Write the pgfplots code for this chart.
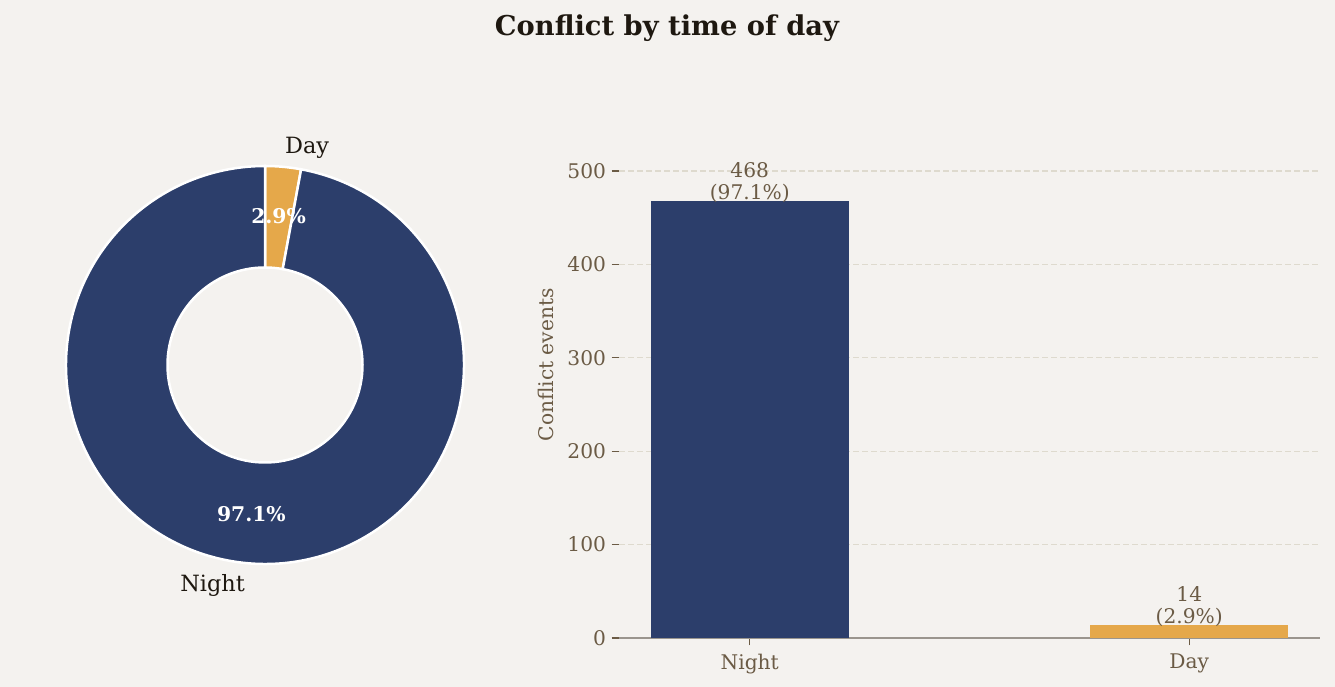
\documentclass[border=0pt]{standalone}
\usepackage{fontspec}
\setmainfont{DejaVu Serif}
\usepackage{pgfplots}
\pgfplotsset{compat=1.18}
\definecolor{bgc}{HTML}{F4F2EF}
\definecolor{navy}{HTML}{2C3E6B}
\definecolor{gold}{HTML}{E5A84A}
\definecolor{txt}{HTML}{6B5B45}
\definecolor{dark}{HTML}{1E1810}
\definecolor{gridc}{HTML}{DEDACE}
\definecolor{axc}{HTML}{9A958E}
\def\nightval{468}
\def\dayval{14}
\begin{document}
\begin{tikzpicture}
\fill[bgc] (0,0) rectangle (1335pt,687pt);
\node[text=dark, font=\fontsize{27.3}{31}\selectfont\bfseries] at (667pt,659pt) {Conflict by time of day};
% ---------- donut ----------
\begin{axis}[
  at={(265pt,322pt)}, anchor=center,
  scale only axis, width=398pt, height=398pt,
  xmin=-1, xmax=1, ymin=-1, ymax=1,
  hide axis, clip=false]
\pgfmathsetmacro{\tot}{\nightval+\dayval}
\pgfmathsetmacro{\da}{90-360*\dayval/\tot}
\pgfmathsetmacro{\dm}{(90+\da)/2}
\pgfmathsetmacro{\nm}{(\da-270)/2}
% Day wedge
\filldraw[fill=gold, draw=white, line width=2.5pt]
  (axis cs:0,1) arc[start angle=90, end angle=\da, radius=199pt]
  -- (axis cs:{0.49*cos(\da)},{0.49*sin(\da)}) arc[start angle=\da, end angle=90, radius=97.5pt] -- cycle;
% Night wedge
\filldraw[fill=navy, draw=white, line width=2.5pt]
  (axis cs:{cos(\da)},{sin(\da)}) arc[start angle=\da, end angle=-270, radius=199pt]
  -- (axis cs:0,0.49) arc[start angle=-270, end angle=\da, radius=97.5pt] -- cycle;
\node[anchor=west, text=dark, font=\fontsize{22.4}{25}\selectfont, inner sep=0pt, yshift=-1pt] at (axis cs:{1.1*cos(\dm)},{1.1*sin(\dm)}) {Day};
\node[anchor=east, text=dark, font=\fontsize{22.4}{25}\selectfont, inner sep=0pt, yshift=-3pt] at (axis cs:{1.1*cos(\nm)},{1.1*sin(\nm)}) {Night};
\node[text=white, font=\fontsize{20.3}{23}\selectfont\bfseries] at (axis cs:{0.75*cos(\dm)},{0.75*sin(\dm)}) {2.9\%};
\node[text=white, font=\fontsize{20.3}{23}\selectfont\bfseries] at (axis cs:{0.75*cos(\nm)},{0.75*sin(\nm)}) {97.1\%};
\end{axis}
% ---------- bars ----------
\begin{axis}[
  at={(619pt,49pt)}, anchor=south west,
  scale only axis, width=701pt, height=546.4pt,
  xmin=-0.2975, xmax=1.2975, ymin=0, ymax=585,
  axis x line*=bottom, axis y line*=left,
  y axis line style={draw=none},
  x axis line style={draw=axc, line width=1.5pt},
  xtick={0,1}, xticklabels={Night,Day},
  ytick={0,100,200,300,400,500},
  tick align=outside, major tick length=7.5pt,
  tick style={draw=txt, line width=1.3pt},
  ymajorgrids, grid style={draw=gridc, dash pattern=on 6pt off 3pt, line width=1.3pt},
  ticklabel style={text=txt, font=\fontsize{20.2}{23}\selectfont},
  yticklabel style={xshift=-2pt},
  xticklabel style={yshift=-5pt},
  /pgf/number format/assume math mode=true,
  ylabel={Conflict events},
  ylabel style={text=txt, font=\fontsize{20.2}{23}\selectfont, at={(axis description cs:-0.104,0.5)}, anchor=center},
  clip=false]
\addplot[ybar, bar width=0.45, bar shift=0pt, fill=navy, draw=none] coordinates {(0,468)};
\addplot[ybar, bar width=0.45, bar shift=0pt, fill=gold, draw=none] coordinates {(1,14)};
\node[anchor=south, align=center, text=txt, font=\fontsize{20.2}{21.5}\selectfont, inner sep=0pt, yshift=-1.5pt] at (axis cs:0,468) {468\\(97.1\%)};
\node[anchor=south, align=center, text=txt, font=\fontsize{20.2}{21.5}\selectfont, inner sep=0pt, yshift=-1.5pt] at (axis cs:1,14) {14\\(2.9\%)};
\end{axis}
\end{tikzpicture}
\end{document}
